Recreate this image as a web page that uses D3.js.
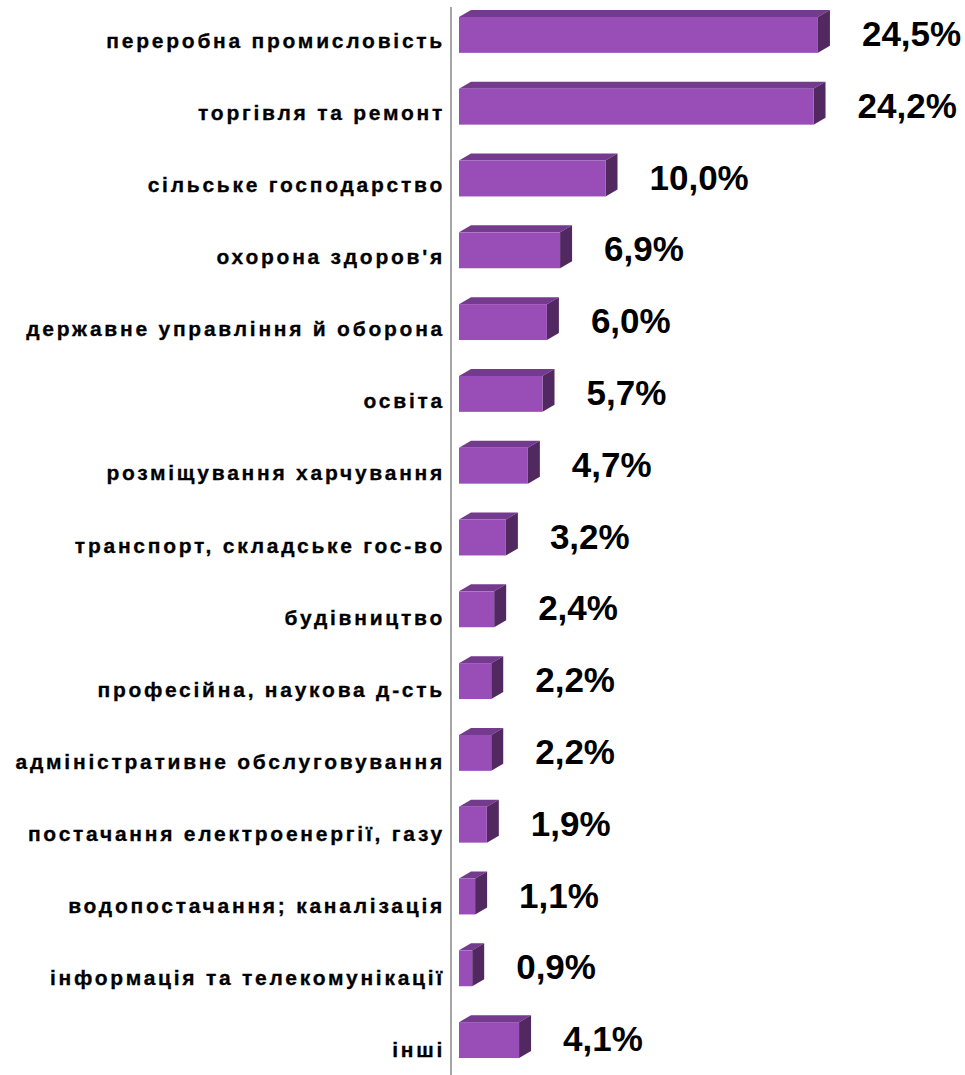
<!DOCTYPE html>
<html lang="uk">
<head>
<meta charset="UTF-8">
<title>Структура</title>
<script src="https://cdn.jsdelivr.net/npm/d3@7"></script>
<style>
  body { margin: 0; background: #fff; }
  text { font-family: Arial, "Liberation Sans", sans-serif; font-weight: bold; fill: #000; }
</style>
</head>
<body>
<div id="chart"></div>
<script>
// data
var categories = [
  "переробна промисловість",
  "торгівля та ремонт",
  "сільське господарство",
  "охорона здоров'я",
  "державне управління й оборона",
  "освіта",
  "розміщування харчування",
  "транспорт, складське гос-во",
  "будівництво",
  "професійна, наукова д-сть",
  "адміністративне обслуговування",
  "постачання електроенергії, газу",
  "водопостачання; каналізація",
  "інформація та телекомунікації",
  "інші"
];
var values = [24.5, 24.2, 10.0, 6.9, 6.0, 5.7, 4.7, 3.2, 2.4, 2.2, 2.2, 1.9, 1.1, 0.9, 4.1];
var valueLabels = ["24,5%", "24,2%", "10,0%", "6,9%", "6,0%", "5,7%", "4,7%", "3,2%", "2,4%", "2,2%", "2,2%", "1,9%", "1,1%", "0,9%", "4,1%"];

var w = 965, h = 1075;
var axisX = 451;
var dx = 12, dy = 7;   // 3d depth

var svg = d3.select("#chart").append("svg")
  .attr("width", w)
  .attr("height", h);

var x = d3.scaleLinear()
  .domain([0, 25])
  .range([459, 459 + 25 * 14.65]);

var y = d3.scaleBand()
  .domain(categories)
  .range([-1, 1076])
  .paddingInner(0.5)
  .paddingOuter(0.25);

// category labels sit on a slightly wider pitch than the bars
var yLab = d3.scalePoint()
  .domain(categories)
  .range([48, 1057]);

var rows = svg.selectAll(".bar")
  .data(categories)
  .enter()
  .append("g")
  .attr("class", "bar");

// top face
rows.append("path")
  .attr("fill", "#733a8e")
  .attr("d", function(d, i) {
    var x0 = x(0), x1 = x(values[i]), t = y(d);
    return "M" + x0 + "," + t + "L" + (x0 + dx) + "," + (t - dy) +
      "L" + (x1 + dx) + "," + (t - dy) + "L" + x1 + "," + t + "Z";
  });

// side face
rows.append("path")
  .attr("fill", "#51285f")
  .attr("d", function(d, i) {
    var x1 = x(values[i]), t = y(d), b = y(d) + y.bandwidth();
    return "M" + x1 + "," + t + "L" + (x1 + dx) + "," + (t - dy) +
      "L" + (x1 + dx) + "," + (b - dy) + "L" + x1 + "," + b + "Z";
  });

// front face
rows.append("rect")
  .attr("fill", "#984db7")
  .attr("x", x(0))
  .attr("y", function(d) { return y(d); })
  .attr("width", function(d, i) { return x(values[i]) - x(0); })
  .attr("height", y.bandwidth());

// axis line
svg.append("line")
  .attr("x1", axisX).attr("x2", axisX)
  .attr("y1", 7).attr("y2", h)
  .attr("stroke", "#a6a6a6")
  .attr("stroke-width", 2);

// category labels
svg.selectAll(".cat")
  .data(categories)
  .enter()
  .append("text")
  .attr("class", "cat")
  .attr("x", 445)
  .attr("y", function(d) { return yLab(d); })
  .attr("text-anchor", "end")
  .attr("font-size", "21px")
  .attr("letter-spacing", "2.75px")
  .attr("stroke", "#000")
  .attr("stroke-width", 0.3)
  .text(function(d) { return d; });

// value labels
svg.selectAll(".val")
  .data(categories)
  .enter()
  .append("text")
  .attr("class", "val")
  .attr("x", function(d, i) { return x(values[i]) + 44; })
  .attr("y", function(d) { return y(d) + y.bandwidth() / 2 + 11; })
  .attr("font-size", "35px")
  .text(function(d, i) { return valueLabels[i]; });
</script>
</body>
</html>
